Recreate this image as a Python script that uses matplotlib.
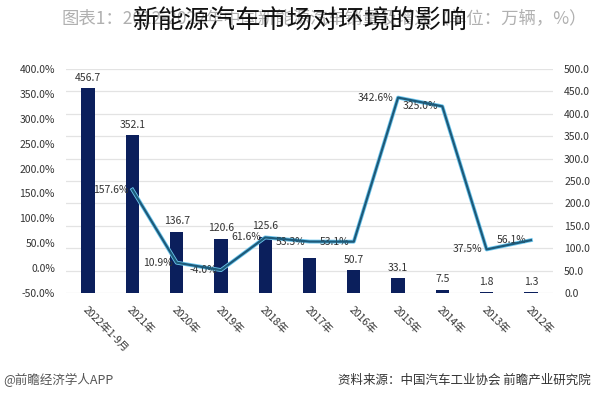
import matplotlib
matplotlib.use("Agg")
import matplotlib.pyplot as plt
import numpy as np

plt.rcParams['font.family'] = ['Noto Sans CJK SC', 'DejaVu Sans']

# 数据（图片为镜像排列：左侧为2022年，右侧为2012年）
years = ["2022年1-9月", "2021年", "2020年", "2019年", "2018年", "2017年",
         "2016年", "2015年", "2014年", "2013年", "2012年"]
sales = [456.7, 352.1, 136.7, 120.6, 125.6, 77.7, 50.7, 33.1, 7.5, 1.8, 1.3]
sales_labels = ["456.7", "352.1", "136.7", "120.6", "125.6", "", "50.7", "33.1", "7.5", "1.8", "1.3"]
growth = [np.nan, 157.6, 10.9, -4.0, 61.6, 53.3, 53.1, 342.6, 325.0, 37.5, 56.1]

right_ticks = np.arange(0, 501, 50)
left_ticks = np.arange(-50, 401, 50)

NAVY = "#0b1f5c"
TXT = "#333333"

fig = plt.figure(figsize=(6, 3.99), dpi=100, facecolor="white")
ax = fig.add_axes([0.11, 0.2657, 0.8117, 0.5613])
x = np.arange(len(years))

# 柱：销量（右轴）
ax.bar(x, sales, width=0.3, color=NAVY, zorder=2)
for xi, v, lab in zip(x, sales, sales_labels):
    if lab:
        ax.annotate(lab, (xi, v), xytext=(0, 4), textcoords="offset points",
                    ha="center", va="bottom", fontsize=7.5, color=TXT)
ax.set_ylim(0, 500)
ax.set_yticks(right_ticks)
ax.set_yticklabels([f"{t:.1f}" for t in right_ticks])
ax.grid(axis="y", color="#e3e3e3", lw=0.9, zorder=0)
ax.set_xlim(-0.5, len(years) - 0.5)
ax.set_xticks(x)
ax.set_xticklabels(years, rotation=-45, ha="left", va="top", rotation_mode="anchor")
ax.tick_params(length=0, labelsize=7.5, colors=TXT, pad=8)
for s in ax.spines.values():
    s.set_visible(False)

# 折线：增速（左轴）
ax2 = ax.twinx()
ax.yaxis.tick_right()
ax2.yaxis.tick_left()
ax2.plot(x, growth, color="#6cc6ee", lw=2.8, solid_joinstyle="round", zorder=3)
ax2.plot(x, growth, color="#1d5a7a", lw=1.6, solid_joinstyle="round", zorder=4)
for xi, g in zip(x, growth):
    if not np.isnan(g):
        ax2.annotate(f"{g:.1f}%", (xi, g), xytext=(-3, 0), textcoords="offset points",
                     ha="right", va="center", fontsize=7.5, color=TXT)
ax2.set_ylim(-50, 400)
ax2.set_yticks(left_ticks)
ax2.set_yticklabels([f"{t:.1f}%" for t in left_ticks])
ax2.tick_params(length=0, labelsize=7.5, colors=TXT, pad=8)
for s in ax2.spines.values():
    s.set_visible(False)

# 标题与注释
fig.text(0.54, 0.952, "图表1：2012-2022年中国新能源汽车销量及增速（单位：万辆，%）",
         ha="center", va="center", fontsize=12.5, color="#b0b0b0")
fig.text(0.5, 0.948, "新能源汽车市场对环境的影响", ha="center", va="center",
         fontsize=18.5, color="#111111")
fig.text(0.985, 0.047, "资料来源：中国汽车工业协会 前瞻产业研究院", ha="right", va="center",
         fontsize=9, color=TXT)
fig.text(0.005, 0.047, "@前瞻经济学人APP", ha="left", va="center",
         fontsize=9, color="#555555")

plt.savefig("out.png", dpi=100, facecolor="white")
plt.close()
